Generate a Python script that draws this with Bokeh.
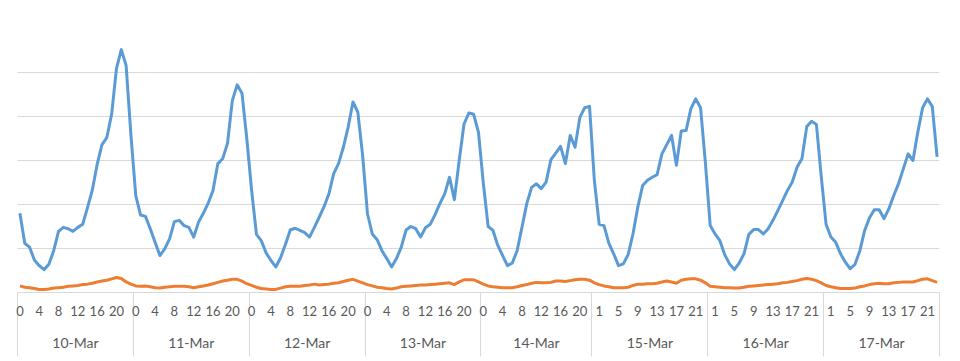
from bokeh.plotting import figure
from bokeh.models import Range1d, FixedTicker, LinearAxis
from bokeh.embed import file_html
from bokeh.resources import INLINE

dates = ["10-Mar", "11-Mar", "12-Mar", "13-Mar", "14-Mar", "15-Mar", "16-Mar", "17-Mar"]
day_hours = [list(range(24))] * 4 + [list(range(23))] + [list(range(24))] * 3

blue = [
    180, 112, 103, 74, 61, 52, 64, 95, 139, 148, 145, 139, 148, 155, 193, 233, 291, 336, 352, 405, 509, 552, 516, 357,
    220, 176, 173, 145, 114, 84, 99, 122, 161, 164, 152, 148, 126, 160, 180, 203, 232, 293, 304, 339, 436, 472, 453, 350,
    232, 132, 118, 90, 73, 58, 79, 109, 142, 146, 141, 136, 126, 148, 171, 195, 224, 270, 293, 330, 376, 433, 410, 311,
    179, 133, 120, 95, 77, 58, 77, 103, 142, 150, 145, 126, 147, 155, 177, 202, 224, 262, 211, 300, 383, 408, 405, 364,
    248, 150, 141, 107, 84, 61, 67, 95, 148, 202, 239, 247, 236, 251, 302, 317, 332, 293, 357, 330, 398, 420, 423,
    255, 155, 152, 112, 88, 61, 65, 86, 133, 194, 243, 255, 262, 268, 315, 336, 357, 289, 367, 368, 418, 440, 420, 295,
    152, 133, 118, 86, 65, 52, 67, 88, 132, 143, 143, 133, 145, 164, 186, 209, 232, 251, 285, 304, 377, 389, 382, 264,
    155, 126, 114, 88, 69, 54, 64, 95, 141, 170, 188, 188, 168, 190, 220, 247, 281, 315, 300, 364, 420, 440, 423, 308,
]

orange = [
    15, 12, 11, 9, 7, 7, 8, 10, 11, 12, 14, 15, 16, 18, 19, 21, 24, 26, 28, 31, 34, 32, 24, 19,
    15, 14, 15, 13, 11, 10, 12, 13, 14, 14, 14, 13, 11, 13, 15, 17, 20, 23, 26, 28, 30, 30, 26, 20,
    16, 12, 9, 8, 7, 7, 10, 13, 14, 14, 14, 16, 17, 19, 17, 18, 19, 21, 22, 25, 28, 30, 26, 22,
    18, 15, 12, 11, 9, 8, 10, 13, 14, 15, 16, 17, 17, 18, 19, 20, 21, 22, 18, 24, 29, 29, 29, 24,
    19, 15, 13, 12, 11, 11, 11, 13, 16, 18, 21, 23, 22, 22, 23, 26, 26, 25, 27, 29, 30, 30, 28,
    22, 18, 15, 13, 11, 11, 11, 12, 16, 19, 19, 20, 20, 21, 24, 26, 24, 21, 28, 30, 31, 31, 28, 22,
    14, 13, 12, 11, 11, 10, 10, 12, 14, 15, 16, 17, 18, 19, 20, 22, 23, 25, 27, 30, 32, 30, 27, 22,
    16, 13, 11, 9, 9, 9, 10, 13, 15, 18, 20, 21, 20, 20, 22, 23, 24, 24, 24, 27, 30, 31, 27, 23,
]

grid_values = [0, 100, 200, 300, 400, 500, 600]

hours = [h for hs in day_hours for h in hs]
n = len(hours)
xs = list(range(n))

bounds = [0]
for hs in day_hours:
    bounds.append(bounds[-1] + len(hs))
sep_pos = [b - 0.5 for b in bounds]
centers = [(bounds[k] + bounds[k + 1] - 1) / 2 for k in range(len(dates))]

hour_ticks = list(range(0, n, 4))
hour_labels = {i: str(hours[i]) for i in hour_ticks}
day_labels = {c: d for c, d in zip(centers, dates)}

GRID = "#d9d9d9"
TXT = "#595959"
FONT = "Lato"

p = figure(width=952, height=361, output_backend="svg", toolbar_location=None,
           x_range=Range1d(-0.5, n - 0.5), y_range=Range1d(0, 600),
           min_border_left=17, min_border_right=13, min_border_top=28, min_border_bottom=69)
p.outline_line_color = None
p.yaxis.visible = False
p.xgrid.visible = False
p.ygrid.ticker = FixedTicker(ticks=grid_values)
p.ygrid.grid_line_color = GRID
p.ygrid.grid_line_width = 1

ax = p.xaxis[0]
ax.ticker = FixedTicker(ticks=hour_ticks, minor_ticks=sep_pos)
ax.major_label_overrides = hour_labels
ax.axis_line_color = GRID
ax.major_tick_line_color = None
ax.major_tick_out = 0
ax.major_tick_in = 0
ax.minor_tick_line_color = GRID
ax.minor_tick_out = 64
ax.minor_tick_in = 0
ax.major_label_standoff = -51
ax.major_label_text_font = FONT
ax.major_label_text_font_size = "13px"
ax.major_label_text_color = TXT

ax2 = LinearAxis(ticker=FixedTicker(ticks=centers, minor_ticks=[]))
ax2.major_label_overrides = day_labels
ax2.axis_line_color = None
ax2.major_tick_line_color = None
ax2.minor_tick_line_color = None
ax2.major_tick_out = 0
ax2.major_tick_in = 0
ax2.major_label_standoff = 15
ax2.major_label_text_font = FONT
ax2.major_label_text_font_size = "14px"
ax2.major_label_text_color = TXT
p.add_layout(ax2, "below")

p.line(xs, orange, line_color="#ED7D31", line_width=3, line_join="round")
p.line(xs, blue, line_color="#5B9BD5", line_width=3, line_join="round")

open("out.html", "w").write(file_html(p, INLINE))
